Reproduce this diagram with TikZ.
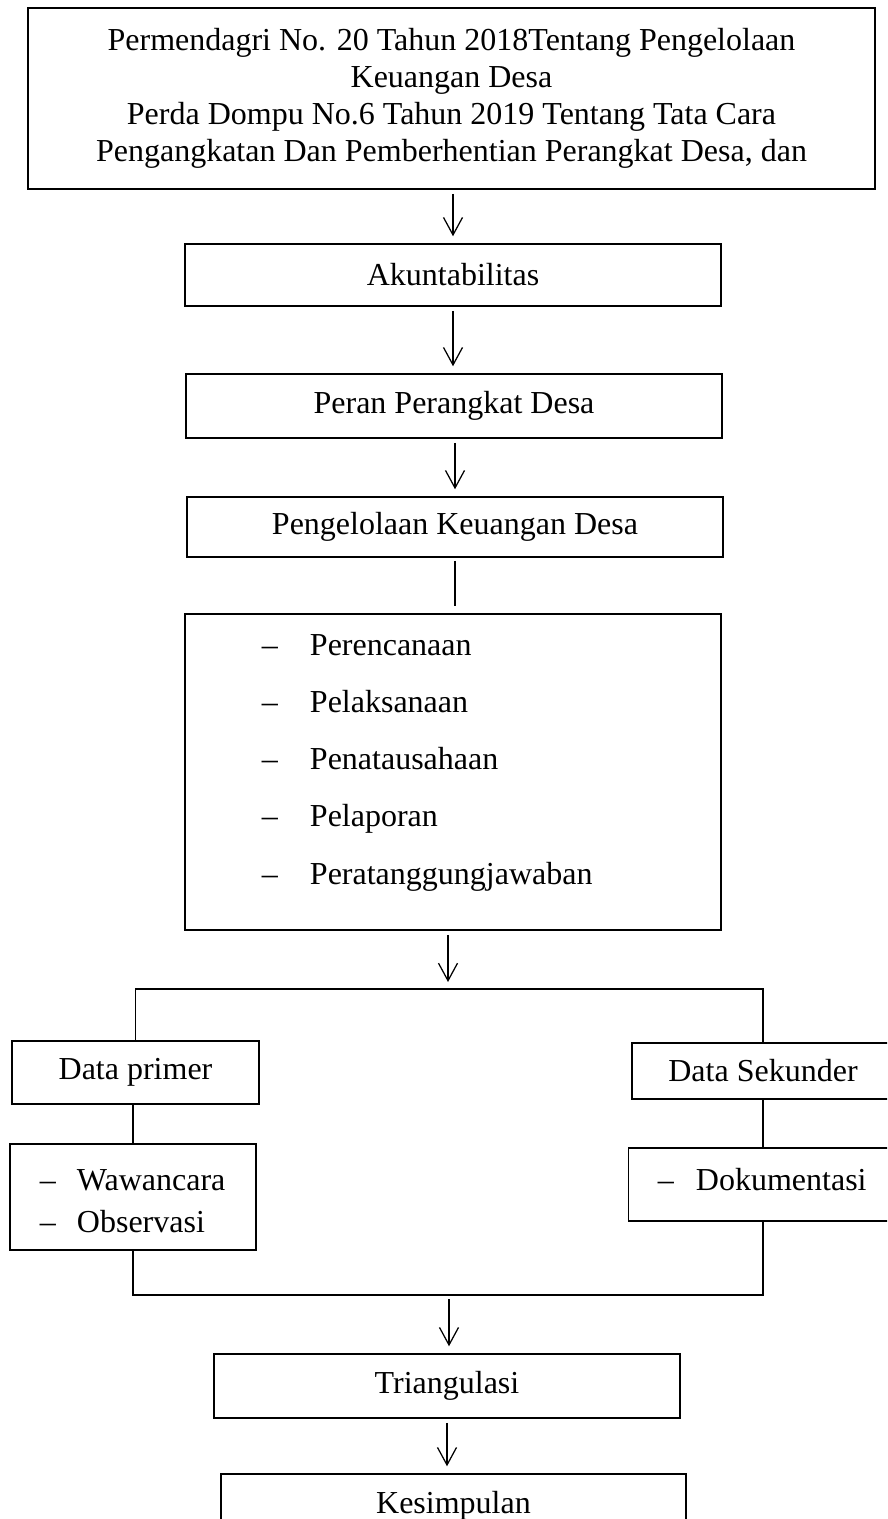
\documentclass[tikz,border=0pt]{standalone}
\usepackage{fontspec}
\setmainfont{Liberation Serif}
\usetikzlibrary{arrows.meta}
\newcommand{\itm}[2]{\makebox[#1][l]{–}#2}

\begin{document}
\begin{tikzpicture}[x=0.4pt, y=-0.4pt, line width=0.5pt, font=\fontsize{12.8}{14.8}\selectfont,
    main/.style = {draw, rectangle, inner sep=0pt, line width=0.6pt},
    arr/.style = {-{Straight Barb[length=7pt,width=7.6pt]}, shorten <=1.6pt, shorten >=2.8pt}]
    \useasboundingbox (0,0) rectangle (887,1519);
    \clip (0,0) rectangle (887,1519);
    \node[main, minimum width=338.8pt, minimum height=72.4pt, align=center] (1) at (451.5,98.5)
        {Permendagri No. 20 Tahun 2018Tentang Pengelolaan\\Keuangan Desa\\Perda Dompu No.6 Tahun 2019 Tentang Tata Cara\\Pengangkatan Dan Pemberhentian Perangkat Desa, dan};
    \node[main, minimum width=214.4pt, minimum height=24.8pt] (2) at (453,275) {Akuntabilitas};
    \node[main, minimum width=214.4pt, minimum height=25.6pt] (3) at (454,406) {Peran Perangkat Desa};
    \node[main, minimum width=214.4pt, minimum height=24pt] (4) at (455,527) {Pengelolaan Keuangan Desa};
    \node[main, minimum width=214.4pt, minimum height=126.4pt] (5) at (453,772) {};
    \node[anchor=west, align=left, font=\fontsize{12.8}{22.9}\selectfont] (5a) at (253,762.5)
        {\itm{19.2pt}{Perencanaan}\\\itm{19.2pt}{Pelaksanaan}\\\itm{19.2pt}{Penatausahaan}\\\itm{19.2pt}{Pelaporan}\\\itm{19.2pt}{Peratanggungjawaban}};
    \node[main, minimum width=98.8pt, minimum height=25.2pt] (6) at (135.5,1072.5) {Data primer};
    \node[main, minimum width=104.8pt, minimum height=22.4pt] (7) at (763,1071) {Data Sekunder};
    \node[main, minimum width=98.4pt, minimum height=42.4pt] (8) at (133,1197) {};
    \node[anchor=west, align=left, font=\fontsize{12.8}{16.8}\selectfont] (8a) at (31,1201)
        {\itm{14.8pt}{Wawancara}\\\itm{14.8pt}{Observasi}};
    \node[main, minimum width=106pt, minimum height=29.2pt] (9) at (761,1184.5) {};
    \node[anchor=west] (9a) at (649,1180) {\itm{15.2pt}{Dokumentasi}};
    \node[main, minimum width=186.4pt, minimum height=25.6pt] (10) at (447,1386) {Triangulasi};
    \node[main, minimum width=186pt, minimum height=25.6pt] (11) at (453.5,1506) {Kesimpulan};
    \coordinate (j1) at (448,989);
    \coordinate (j2) at (449,1295);
    \draw[arr] (2.north |- 1.south) -- (2.north);
    \draw[arr] (2.south) -- (2.south |- 3.north);
    \draw[arr] (4.north |- 3.south) -- (4.north);
    \draw[shorten <=1.2pt, shorten >=2.8pt] (4.south) -- (4.south |- 5.north);
    \draw[arr] (j1 |- 5.south) -- (j1);
    \draw (6.north) |- (7.north |- j1) -- (7.north);
    \draw (8.north |- 6.south) -- (8.north);
    \draw (7.south) -- (7.south |- 9.north);
    \draw (8.south) |- (7.south |- j2) -- (7.south |- 9.south);
    \draw[arr] (j2) -- (j2 |- 10.north);
    \draw[arr] (10.south) -- (10.south |- 11.north);
\end{tikzpicture}
\end{document}
